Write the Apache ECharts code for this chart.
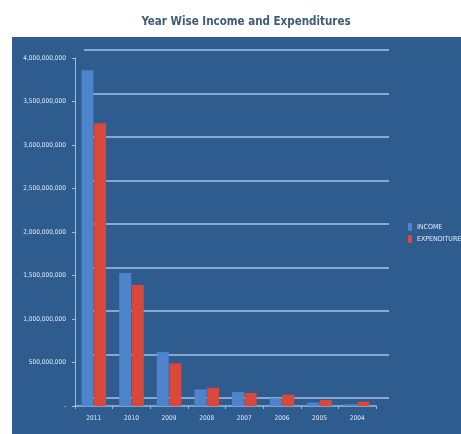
<!DOCTYPE html>
<html><head><meta charset="utf-8">
<script src="https://cdn.jsdelivr.net/npm/echarts@6/dist/echarts.min.js"></script>
<style>html,body{margin:0;padding:0;background:#fff}#c{width:461px;height:434px}</style>
</head><body><div id="c"></div>
<script>
const years = ['2011','2010','2009','2008','2007','2006','2005','2004'];
const income = [3860000000, 1530000000, 620000000, 190000000, 160000000, 90000000, 40000000, 20000000];
const expenditure = [3250000000, 1390000000, 490000000, 210000000, 150000000, 130000000, 70000000, 50000000];
const yTicks = ['-', '500,000,000', '1,000,000,000', '1,500,000,000', '2,000,000,000', '2,500,000,000', '3,000,000,000', '3,500,000,000', '4,000,000,000'];

const chart = echarts.init(document.getElementById('c'));
const lab = {color:'#dfe9f6', fontSize:6.5, fontFamily:'DejaVu Sans Condensed, Liberation Sans Narrow, sans-serif'};
chart.setOption({
  backgroundColor:'#ffffff',
  animation:false,
  title:{text:'Year Wise Income and Expenditures', left:241, top:11, textAlign:'center',
    textStyle:{color:'#3d5b7d', fontSize:11.5, fontWeight:'bold', fontFamily:'DejaVu Sans Condensed, Liberation Sans Narrow, sans-serif'}},
  graphic:[{type:'rect', shape:{x:12,y:37,width:449,height:397}, style:{fill:'#2f5c8f'}, z:-10, silent:true}],
  legend:{orient:'vertical', left:403, top:218, itemWidth:4, itemHeight:8, itemGap:4,
    textStyle:{color:'#e3ecf8', fontSize:7, fontFamily:'DejaVu Sans Condensed, Liberation Sans Narrow, sans-serif'},
    data:['INCOME','EXPENDITURE']},
  grid:[{left:75, right:85, top:58, bottom:28},
        {left:84, right:72, top:50, bottom:36}],
  xAxis:[{type:'category', gridIndex:0, data:years,
    axisLine:{lineStyle:{color:'#9dbbe0', width:1.5}},
    axisTick:{show:true, lineStyle:{color:'#9dbbe0'}, length:3},
    axisLabel:Object.assign({margin:9}, lab)},
   {type:'category', gridIndex:1, data:years, show:false}],
  yAxis:[{type:'value', gridIndex:0, min:0, max:4000000000, interval:500000000,
    axisLine:{show:true, lineStyle:{color:'#9dbbe0', width:1}},
    axisTick:{show:true, length:3, lineStyle:{color:'#9dbbe0'}},
    splitLine:{show:false},
    axisLabel:Object.assign({margin:9, formatter:(v)=>yTicks[Math.round(v/500000000)]}, lab)},
   {type:'value', gridIndex:1, min:0, max:4000000000, interval:500000000,
    axisLine:{show:false}, axisTick:{show:false}, axisLabel:{show:false},
    splitLine:{show:true, lineStyle:{color:'#86a9d4', width:2}}}],
  series:[
    {name:'INCOME', type:'bar', xAxisIndex:0, yAxisIndex:0, data:income, barWidth:12, barGap:'5%',
      itemStyle:{color:'#4d84cc'}},
    {name:'EXPENDITURE', type:'bar', xAxisIndex:0, yAxisIndex:0, data:expenditure, barWidth:12,
      itemStyle:{color:'#d9483b'}}
  ]
});
</script></body></html>
